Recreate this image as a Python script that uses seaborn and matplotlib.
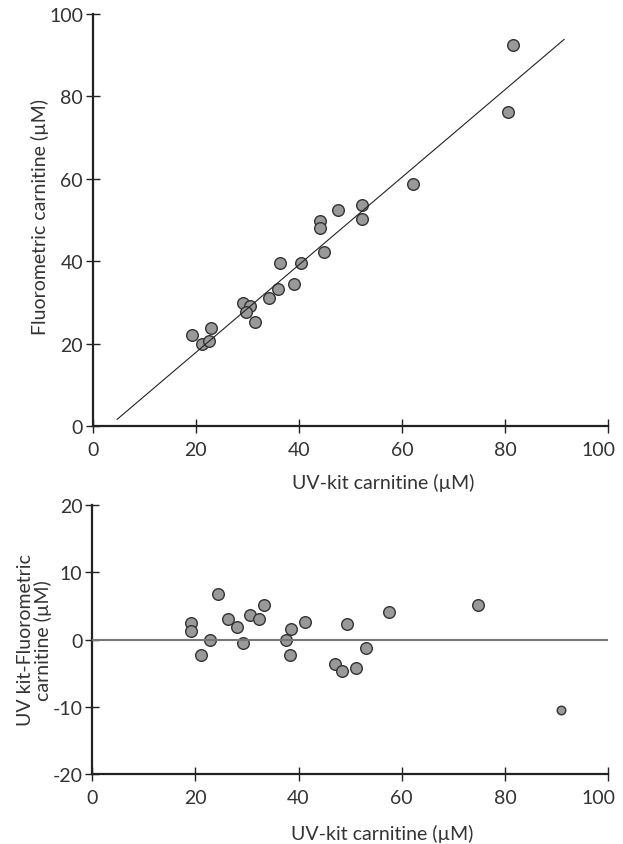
import numpy as np
import pandas as pd
import seaborn as sns
import matplotlib.pyplot as plt
import matplotlib.transforms as mtransforms

# Top panel: UV-kit vs fluorometric carnitine (uM)
uv_kit = [19.2, 21.1, 22.5, 22.9, 29.1, 30.6, 29.8, 31.5, 34.2, 36.0, 36.4,
          39.1, 40.5, 44.1, 44.1, 44.9, 47.6, 52.2, 52.2, 62.1, 80.6, 81.5]
fluoro = [22.1, 19.9, 20.5, 23.8, 29.9, 29.0, 27.7, 25.2, 31.1, 33.3, 39.6,
          34.5, 39.6, 49.8, 48.0, 42.2, 52.4, 53.6, 50.2, 58.7, 76.1, 92.5]
fit_x = [4.7, 91.5]
fit_slope = 1.062
fit_intercept = -3.4

# Bottom panel: difference plot
diff_x = [19.2, 19.2, 21.1, 22.9, 24.3, 26.3, 28.1, 29.3, 30.6, 32.4, 33.4,
          37.5, 38.6, 38.4, 41.3, 47.0, 48.4, 49.3, 51.1, 53.0, 57.5, 74.7, 90.9]
diff_y = [2.5, 1.2, -2.3, -0.1, 6.8, 3.1, 1.9, -0.5, 3.7, 3.1, 5.1,
          -0.1, 1.6, -2.3, 2.6, -3.7, -4.7, 2.3, -4.3, -1.2, 4.1, 5.1, -10.5]

ticks_x = [0, 20, 40, 60, 80, 100]
ticks_top_y = [0, 20, 40, 60, 80, 100]
ticks_bot_y = [-20, -10, 0, 10, 20]

sns.set_style("ticks")
plt.rcParams['font.family'] = ['Lato', 'DejaVu Sans']
plt.rcParams['axes.unicode_minus'] = False
text_col = '#333333'

top = pd.DataFrame({'uv': uv_kit, 'fl': fluoro})
fit = pd.DataFrame({'x': fit_x})
fit['y'] = fit_slope * fit['x'] + fit_intercept
bot = pd.DataFrame({'x': diff_x, 'y': diff_y})

fig = plt.figure(figsize=(6.23, 8.45), dpi=100)
ax1 = fig.add_axes([0.149, 0.4947, 0.827, 0.488])
ax2 = fig.add_axes([0.148, 0.083, 0.828, 0.318])

pt_kw = dict(color='#999999', edgecolor='#333333', linewidth=1.0, zorder=2)

sns.scatterplot(data=top, x='uv', y='fl', s=70, ax=ax1, **pt_kw)
sns.lineplot(data=fit, x='x', y='y', color='#222222', linewidth=0.8, ax=ax1, zorder=3)

sns.scatterplot(data=bot.iloc[:-1], x='x', y='y', s=70, ax=ax2, **pt_kw)
sns.scatterplot(data=bot.iloc[-1:], x='x', y='y', s=38, ax=ax2, **pt_kw)
ax2.axhline(0, color='#777777', linewidth=1.5, zorder=3)

shift_left = mtransforms.ScaledTranslation(-10 / 100, 0, fig.dpi_scale_trans)

for ax, yt in [(ax1, ticks_top_y), (ax2, ticks_bot_y)]:
    ax.set_xlim(0, 100)
    ax.set_ylim(yt[0], yt[-1])
    ax.set_xticks(ticks_x)
    ax.set_yticks(yt)
    sns.despine(ax=ax)
    for s in ['left', 'bottom']:
        ax.spines[s].set_linewidth(1.6)
        ax.spines[s].set_color('#222222')
    ax.tick_params(axis='both', direction='inout', length=10, width=1,
                   colors='#222222', labelcolor=text_col, labelsize=14)
    ax.tick_params(axis='x', pad=6)
    ax.tick_params(axis='y', pad=2)
    ax.set_xlabel('UV-kit carnitine (µM)', fontsize=14, color=text_col)
    # last x tick label sits a bit left of its tick, as in the original
    lbl = ax.get_xticklabels()[-1]
    lbl.set_transform(lbl.get_transform() + shift_left)

ax1.set_ylabel('Fluorometric carnitine (µM)', fontsize=14, color=text_col)
ax2.set_ylabel('UV kit-Fluorometric\ncarnitine (µM)', fontsize=14, color=text_col,
               linespacing=1.0)

ax1.xaxis.set_label_coords(0.563, -0.115)
ax2.xaxis.set_label_coords(0.562, -0.185)
ax1.yaxis.set_label_coords(-0.085, 0.51)
ax2.yaxis.set_label_coords(-0.077, 0.5)

fig.savefig('out.png', dpi=100)
